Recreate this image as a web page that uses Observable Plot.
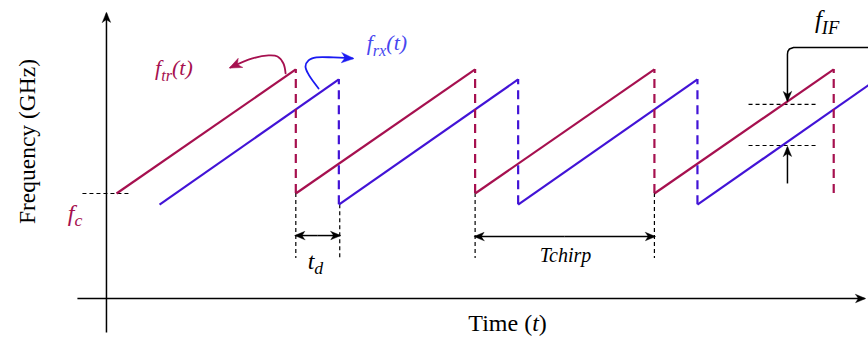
<!DOCTYPE html>
<html><head><meta charset="utf-8">
<script src="https://cdn.jsdelivr.net/npm/d3@7"></script>
<script src="https://cdn.jsdelivr.net/npm/@observablehq/plot@0.6"></script>
<style>
body{margin:0;background:#fff}
#chart svg{display:block}
#chart svg, #chart svg text, #chart svg tspan{font-family:"Liberation Serif","DejaVu Serif",serif !important;}
</style>
</head><body><div id="chart"></div>
<script>
// ---- data (time in chirp periods, frequency in units of chirp bandwidth above f_c) ----
const redStarts = [0, 1, 2, 3];
const blueStarts = [0.24, 1.24, 2.24, 3.24];
const chirpLength = 1;
const redLow = 0, redHigh = 1;
const blueLow = -0.09, blueHigh = 0.92;
const markerTimes = [1, 2, 3];          // black dashed guides at chirp starts
const delayGuide = [1.245];             // guide at delayed start
const guideBottom = -0.524;

const trArrowT = [0.943, 0.931, 0.898, 0.848, 0.758, 0.636];
const trArrowF = [0.968, 1.048, 1.105, 1.113, 1.089, 1.016];
const rxArrowT = [1.127, 1.071, 1.054, 1.071, 1.115, 1.210, 1.316];
const rxArrowF = [0.847, 0.960, 1.024, 1.073, 1.097, 1.097, 1.089];
const ifTopT = [4.25, 3.776, 3.753, 3.744, 3.742, 3.742];
const ifTopF = [1.177, 1.177, 1.165, 1.145, 1.121, 0.750];
const ifLevels = [0.718, 0.387];
const spans = [{a: 1, b: 1.245, f: -0.339}, {a: 2, b: 3, f: -0.347}];  // t_d and T_chirp

const labelTexts = {
  tr: "f_{tr}(t)", rx: "f_{rx}(t)", fIF: "f_{IF}", tchirp: "Tchirp",
  td: "t_{d}", fc: "f_{c}", xTitle: "Time (*t*)", yTitle: "Frequency (GHz)"
};

const RED = "#a6104f", BLUE = "#4213d6", RXBLUE = "#1a1af2", RXTEXT = "#4747ef";
const FONT = "'Liberation Serif', 'DejaVu Serif', serif";
const pts = (T, F) => T.map((t, i) => ({t, f: F[i]}));
const halfSpans = spans.flatMap(s => [{from: (s.a + s.b) / 2, to: s.a, f: s.f}, {from: (s.a + s.b) / 2, to: s.b, f: s.f}]);

const chart = Plot.plot({
  width: 868, height: 338, margin: 0,
  x: {domain: [-0.647, 4.194], axis: null},
  y: {domain: [-1.169, 1.556], axis: null},
  style: {background: "white", fontFamily: FONT},
  marks: [
    // axes
    Plot.link([{x1: -0.056, y1: -1.121, x2: -0.056, y2: 1.452}], {x1: "x1", y1: "y1", x2: "x2", y2: "y2", stroke: "black", strokeWidth: 1.5, markerEnd: "arrow"}),
    Plot.link([{x1: -0.218, y1: -0.847, x2: 4.172, y2: -0.847}], {x1: "x1", y1: "y1", x2: "x2", y2: "y2", stroke: "black", strokeWidth: 1.5, markerEnd: "arrow"}),
    // f_c guide
    Plot.link([{x1: -0.19, x2: 0.067, y: redLow}], {x1: "x1", x2: "x2", y1: "y", y2: "y", stroke: "black", strokeWidth: 1.2, strokeDasharray: "4,3"}),
    // black guides
    Plot.ruleX(markerTimes, {x: d => d, y1: redLow, y2: guideBottom, stroke: "black", strokeWidth: 1.2, strokeDasharray: "4,3"}),
    Plot.ruleX(delayGuide, {x: d => d, y1: blueLow, y2: guideBottom, stroke: "black", strokeWidth: 1.2, strokeDasharray: "4,3"}),
    // IF guides
    Plot.link(ifLevels, {x1: () => 3.525, x2: () => 3.915, y1: d => d, y2: d => d, stroke: "black", strokeWidth: 1.2, strokeDasharray: "4,3"}),
    // chirps
    Plot.link(blueStarts, {x1: d => d, x2: d => d + chirpLength, y1: () => blueLow, y2: () => blueHigh, stroke: BLUE, strokeWidth: 2.2, clip: true}),
    Plot.link(redStarts, {x1: d => d, x2: d => d + chirpLength, y1: () => redLow, y2: () => redHigh, stroke: RED, strokeWidth: 2.2}),
    Plot.ruleX(redStarts, {x: d => d + chirpLength, y1: redLow, y2: redHigh, stroke: RED, strokeWidth: 2.2, strokeDasharray: "9,6"}),
    Plot.ruleX(blueStarts.slice(0, 3), {x: d => d + chirpLength, y1: blueLow, y2: blueHigh, stroke: BLUE, strokeWidth: 2.2, strokeDasharray: "9,6"}),
    // t_d and T_chirp double arrows (drawn outward from the middle)
    Plot.link(halfSpans, {x1: "from", x2: "to", y1: "f", y2: "f", stroke: "black", strokeWidth: 1.5, markerEnd: "arrow"}),
    // f_IF arrows
    Plot.line(pts(ifTopT, ifTopF), {x: "t", y: "f", stroke: "black", strokeWidth: 1.5, markerEnd: "arrow"}),
    Plot.link([{x: 3.742, y1: 0.081, y2: 0.371}], {x1: "x", x2: "x", y1: "y1", y2: "y2", stroke: "black", strokeWidth: 1.5, markerEnd: "arrow"}),
    // curved label arrows
    Plot.line(pts(trArrowT, trArrowF), {x: "t", y: "f", curve: "catmull-rom", stroke: RED, strokeWidth: 1.8, markerEnd: "arrow"}),
    Plot.line(pts(rxArrowT, rxArrowF), {x: "t", y: "f", curve: "catmull-rom", stroke: RXBLUE, strokeWidth: 1.8, markerEnd: "arrow"}),
    // labels
    Plot.text([labelTexts.tr], {x: () => 0.215, y: () => 0.952, text: d => d, textAnchor: "start", lineAnchor: "bottom", fill: RED, fontSize: 22, fontStyle: "italic", fontFamily: FONT}),
    Plot.text([labelTexts.rx], {x: () => 1.395, y: () => 1.153, text: d => d, textAnchor: "start", lineAnchor: "bottom", fill: RXTEXT, fontSize: 22, fontStyle: "italic", fontFamily: FONT}),
    Plot.text([labelTexts.fIF], {x: () => 3.895, y: () => 1.331, text: d => d, textAnchor: "start", lineAnchor: "bottom", fill: "black", fontSize: 25, fontStyle: "italic", fontFamily: FONT}),
    Plot.text([labelTexts.tchirp], {x: () => 2.504, y: () => -0.556, text: d => d, textAnchor: "middle", lineAnchor: "bottom", fill: "black", fontSize: 20, fontStyle: "italic", fontFamily: FONT}),
    Plot.text([labelTexts.td], {x: () => 1.066, y: () => -0.605, text: d => d, textAnchor: "start", lineAnchor: "bottom", fill: "black", fontSize: 24, fontStyle: "italic", fontFamily: FONT}),
    Plot.text([labelTexts.fc], {x: () => -0.272, y: () => -0.218, text: d => d, textAnchor: "start", lineAnchor: "bottom", fill: RED, fontSize: 24, fontStyle: "italic", fontFamily: FONT}),
    Plot.text([labelTexts.xTitle], {x: () => 2.181, y: () => -1.105, text: d => d, textAnchor: "middle", lineAnchor: "bottom", fill: "black", fontSize: 24, fontFamily: FONT}),
    Plot.text([labelTexts.yTitle], {x: () => -0.497, y: () => 0.419, text: d => d, textAnchor: "middle", lineAnchor: "middle", rotate: -90, fill: "black", fontSize: 23.5, fontFamily: FONT})
  ]
});
document.getElementById("chart").appendChild(chart);

// filled stealth-style arrowheads
d3.select(chart).selectAll("marker").each(function () {
  const c = this.getAttribute("stroke") || "black";
  d3.select(this).attr("fill", c).attr("overflow", "visible").attr("stroke-width", 0.4).attr("orient", "auto");
  d3.select(this).selectAll("path").attr("d", "M-9,-4.2L1.2,0L-9,4.2L-6.3,0Z");
});

// rich text: _{sub} and *italic*
d3.select(chart).selectAll("text").each(function () {
  const s = this.textContent;
  if (!/[_*]/.test(s)) return;
  const fs = parseFloat(getComputedStyle(this).fontSize) || 18;
  this.textContent = "";
  const re = /_\{([^}]*)\}|\*([^*]*)\*|([^_*]+)/g;
  let m, shifted = false;
  while ((m = re.exec(s))) {
    const ts = document.createElementNS("http://www.w3.org/2000/svg", "tspan");
    if (m[1] !== undefined) {
      ts.textContent = m[1];
      ts.setAttribute("font-size", (fs * 0.74) + "px");
      ts.setAttribute("dy", (fs * 0.24) + "px");
      shifted = true;
    } else {
      ts.textContent = m[2] !== undefined ? m[2] : m[3];
      if (m[2] !== undefined) ts.setAttribute("font-style", "italic");
      if (shifted) { ts.setAttribute("dy", (-fs * 0.24) + "px"); shifted = false; }
    }
    this.appendChild(ts);
  }
});
</script></body></html>
